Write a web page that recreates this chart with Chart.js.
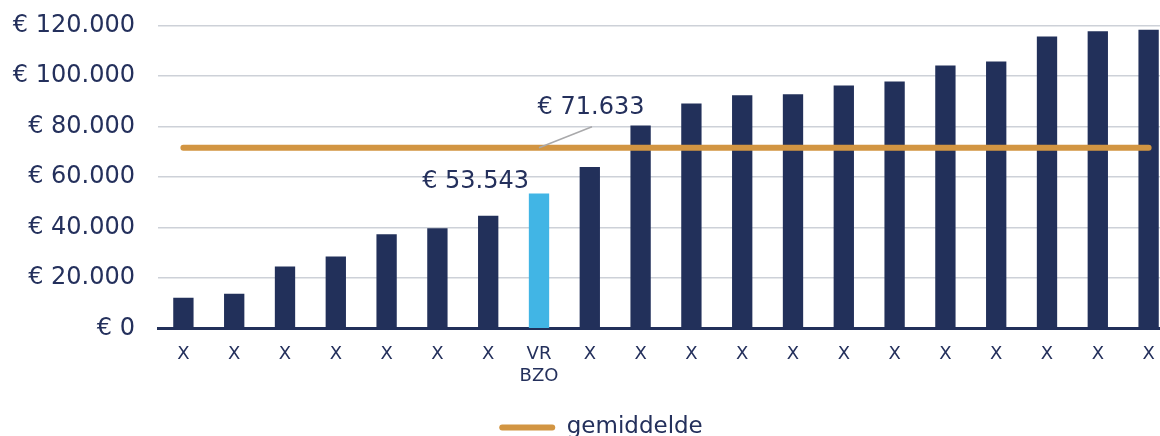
<!DOCTYPE html>
<html>
<head>
<meta charset="utf-8">
<script src="https://cdn.jsdelivr.net/npm/chart.js@4"></script>
<style>
  html, body { margin: 0; padding: 0; background: #fff; overflow: hidden; }
  #wrap { width: 1160px; height: 436px; overflow: hidden; position: relative; }
  #box { width: 1176px; height: 461px; position: absolute; left: 0; top: -12px; }
</style>
</head>
<body>
<div id="wrap"><div id="box"><canvas id="chart"></canvas></div></div>
<script>
const labels = ["X", "X", "X", "X", "X", "X", "X", ["VR", "BZO"], "X", "X",
                "X", "X", "X", "X", "X", "X", "X", "X", "X", "X"];
const costs = [12250, 13850, 24600, 28550, 37400, 39800, 44750, 53543, 64000, 80400,
               89100, 92400, 92800, 96200, 97800, 104100, 105700, 115600, 117700, 118300];
const average = [71633, 71633, 71633, 71633, 71633, 71633, 71633, 71633, 71633, 71633,
                 71633, 71633, 71633, 71633, 71633, 71633, 71633, 71633, 71633, 71633];
const highlightIndex = 7;
const yTicks = [0, 20000, 40000, 60000, 80000, 100000, 120000];

const navy = "#22305a";
const textNavy = "#24305c";
const lightBlue = "#41b5e5";
const orange = "#d29542";
const font = "'DejaVu Sans', Verdana, sans-serif";

function euro(v) {
  return "€ " + String(v).replace(/\B(?=(\d{3})+(?!\d))/g, ".");
}

const barColors = costs.map((v, i) => i === highlightIndex ? lightBlue : navy);

const labelPlugin = {
  id: "valueLabels",
  afterLayout(chart) {
    // legend sits a bit right of centre in the original
    chart.legend.left += 14;
    chart.legend.right += 14;
  },
  afterDatasetsDraw(chart) {
    const ctx = chart.ctx;
    const x = chart.scales.x, y = chart.scales.y;
    const bx = x.getPixelForValue(highlightIndex);
    const by = y.getPixelForValue(costs[highlightIndex]);
    const ay = y.getPixelForValue(average[highlightIndex]);
    ctx.save();
    ctx.font = "24px " + font;
    ctx.fillStyle = textNavy;
    ctx.textBaseline = "middle";
    ctx.textAlign = "right";
    ctx.fillText(euro(costs[highlightIndex]), bx - 10, by - 12);
    // leader line for the average
    ctx.strokeStyle = "#a9a9ab";
    ctx.lineWidth = 1.5;
    ctx.beginPath();
    ctx.moveTo(bx, ay);
    ctx.lineTo(bx + 53, ay - 21);
    ctx.stroke();
    ctx.textAlign = "center";
    ctx.fillText(euro(average[highlightIndex]), bx + 52, ay - 40);
    ctx.restore();
  }
};

new Chart("chart", {
  data: {
    labels: labels,
    datasets: [{
      type: "line",
      label: "gemiddelde",
      data: average,
      borderColor: orange,
      backgroundColor: orange,
      borderWidth: 6,
      borderCapStyle: "round",
      pointRadius: 0,
      order: 1
    }, {
      type: "bar",
      label: "kosten",
      data: costs,
      backgroundColor: barColors,
      categoryPercentage: 1,
      barPercentage: 0.4,
      order: 2
    }]
  },
  options: {
    responsive: true,
    maintainAspectRatio: false,
    animation: false,
    layout: { padding: { top: 1, right: 2, bottom: 0, left: 0 } },
    plugins: {
      tooltip: { enabled: false },
      legend: {
        position: "bottom",
        labels: {
          font: { family: font, size: 23 },
          color: textNavy,
          boxWidth: 56,
          boxHeight: 6,
          useBorderRadius: true,
          borderRadius: 3,
          padding: 22,
          generateLabels: () => [{
            text: "gemiddelde",
            fillStyle: orange,
            strokeStyle: orange,
            lineWidth: 0,
            fontColor: textNavy,
            hidden: false,
            datasetIndex: 0,
            borderRadius: 3
          }]
        }
      }
    },
    scales: {
      x: {
        grid: { display: false },
        border: { display: true, color: navy, width: 3 },
        ticks: {
          font: { family: font, size: 18 },
          color: textNavy,
          padding: 7,
          maxRotation: 0,
          autoSkip: false
        }
      },
      y: {
        min: 0,
        max: 120000,
        afterFit: s => { s.width = 158; },
        afterBuildTicks: s => { s.ticks = yTicks.map(v => ({ value: v })); },
        border: { display: false },
        grid: { color: "#cdd1d8", lineWidth: 1.5, drawTicks: false },
        ticks: {
          font: { family: font, size: 24 },
          color: textNavy,
          padding: 23,
          callback: v => euro(v)
        }
      }
    }
  },
  plugins: [labelPlugin]
});
</script>
</body>
</html>
